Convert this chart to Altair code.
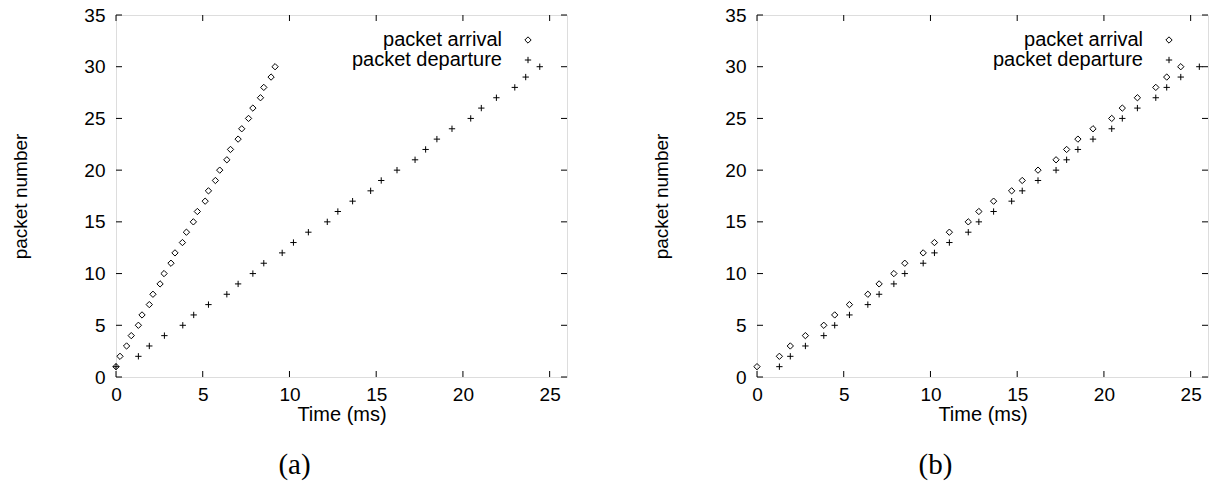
import altair as alt
import pandas as pd

packets = list(range(1, 31))

# panel (a)
a_arrival = [0.00, 0.23, 0.61, 0.88, 1.29, 1.50, 1.92, 2.13, 2.54, 2.77,
             3.17, 3.40, 3.83, 4.06, 4.46, 4.69, 5.14, 5.33, 5.73, 5.98,
             6.39, 6.60, 7.04, 7.25, 7.64, 7.89, 8.33, 8.52, 8.94, 9.17]
a_departure = [0.00, 1.29, 1.92, 2.79, 3.85, 4.48, 5.33, 6.39, 7.04, 7.89,
               8.52, 9.58, 10.23, 11.09, 12.18, 12.79, 13.64, 14.68, 15.29, 16.20,
               17.24, 17.85, 18.50, 19.37, 20.45, 21.06, 21.93, 22.99, 23.62, 24.43]

# panel (b)
b_arrival = [0.00, 1.29, 1.92, 2.79, 3.85, 4.48, 5.33, 6.39, 7.04, 7.89,
             8.52, 9.58, 10.23, 11.09, 12.18, 12.79, 13.64, 14.68, 15.29, 16.20,
             17.24, 17.85, 18.50, 19.37, 20.45, 21.06, 21.93, 22.99, 23.62, 24.43]
b_departure = [1.29, 1.92, 2.79, 3.85, 4.48, 5.33, 6.39, 7.04, 7.89, 8.52,
               9.58, 10.23, 11.09, 12.18, 12.79, 13.64, 14.68, 15.29, 16.20, 17.24,
               17.85, 18.50, 19.37, 20.45, 21.06, 21.93, 22.99, 23.62, 24.43, 25.50]

series_names = ["packet arrival", "packet departure"]
x_ticks = [0, 5, 10, 15, 20, 25]
y_ticks = [0, 5, 10, 15, 20, 25, 30, 35]
captions = ["(a)", "(b)"]

W, H = 451, 362
FONT = "Liberation Sans"
PLUS = "M-1,0L1,0M0,-1L0,1"


def long_df(arr, dep):
    rows = []
    for p, t in zip(packets, arr):
        rows.append({"time": t, "packet": p, "series": series_names[0]})
    for p, t in zip(packets, dep):
        rows.append({"time": t, "packet": p, "series": series_names[1]})
    return pd.DataFrame(rows)


xenc = alt.X("time:Q",
             scale=alt.Scale(domain=[0, 26], nice=False, zero=False),
             axis=alt.Axis(values=x_ticks, title="Time (ms)", grid=False, ticks=False,
                           tickSize=0, domain=False, labelPadding=8, titlePadding=0,
                           labelFlush=False, labelOverlap=False,
                           labelFontSize=19, titleFontSize=20, labelFont=FONT,
                           titleFont=FONT, titleFontWeight="normal", labelColor="black",
                           titleColor="black"))
yenc = alt.Y("packet:Q",
             scale=alt.Scale(domain=[0, 35], nice=False, zero=False),
             axis=alt.Axis(values=y_ticks, title="packet number", grid=False, ticks=False,
                           tickSize=0, domain=False, labelPadding=11,
                           labelFlush=False, labelOverlap=False,
                           titleX=-96, titleY=H / 2, titleAngle=-90, titleBaseline="middle",
                           labelFontSize=19, titleFontSize=19, labelFont=FONT,
                           titleFont=FONT, titleFontWeight="normal", labelColor="black",
                           titleColor="black"))

xt_df = pd.DataFrame({"time": x_ticks})
yt_df = pd.DataFrame({"packet": y_ticks})


def panel(arr, dep, cap):
    df = long_df(arr, dep)
    pts = alt.Chart(df).mark_point(filled=False, color="black", strokeWidth=1, size=40,
                                   opacity=1).encode(
        x=xenc, y=yenc,
        shape=alt.Shape("series:N",
                        scale=alt.Scale(domain=series_names, range=["diamond", PLUS]),
                        legend=alt.Legend(title=None, orient="none", legendX=402, legendY=15,
                                          labelAlign="right", labelOffset={"expr": "-36"},
                                          labelFontSize=20, labelFont=FONT, labelColor="black",
                                          symbolSize=40, symbolStrokeColor="black",
                                          symbolStrokeWidth=1, symbolFillColor="transparent",
                                          rowPadding=0, padding=0, labelLimit=400)),
    )
    bx = alt.Chart(xt_df).mark_rule(color="black", strokeWidth=1).encode(
        x=xenc, y=alt.value(H), y2=alt.value(H - 6))
    tx = alt.Chart(xt_df).mark_rule(color="black", strokeWidth=1).encode(
        x=xenc, y=alt.value(0), y2=alt.value(6))
    ly = alt.Chart(yt_df).mark_rule(color="black", strokeWidth=1).encode(
        y=yenc, x=alt.value(0), x2=alt.value(6))
    ry = alt.Chart(yt_df).mark_rule(color="black", strokeWidth=1).encode(
        y=yenc, x=alt.value(W), x2=alt.value(W - 6))
    return alt.layer(bx, tx, ly, ry, pts).properties(
        width=W, height=H,
        title=alt.TitleParams(cap, orient="bottom", font="Liberation Serif", fontSize=29,
                              fontWeight="normal", color="black", dx=-47, offset=27))


chart = alt.hconcat(
    panel(a_arrival, a_departure, captions[0]),
    panel(b_arrival, b_departure, captions[1]),
    spacing=83,
).resolve_scale(shape="independent").resolve_legend(shape="independent").properties(
    padding={"left": 10, "top": 5, "right": 0, "bottom": 0}
).configure_view(stroke="black", strokeWidth=1).configure(background="white")

chart.save("out.html", embed_options={"renderer": "svg", "actions": False})
